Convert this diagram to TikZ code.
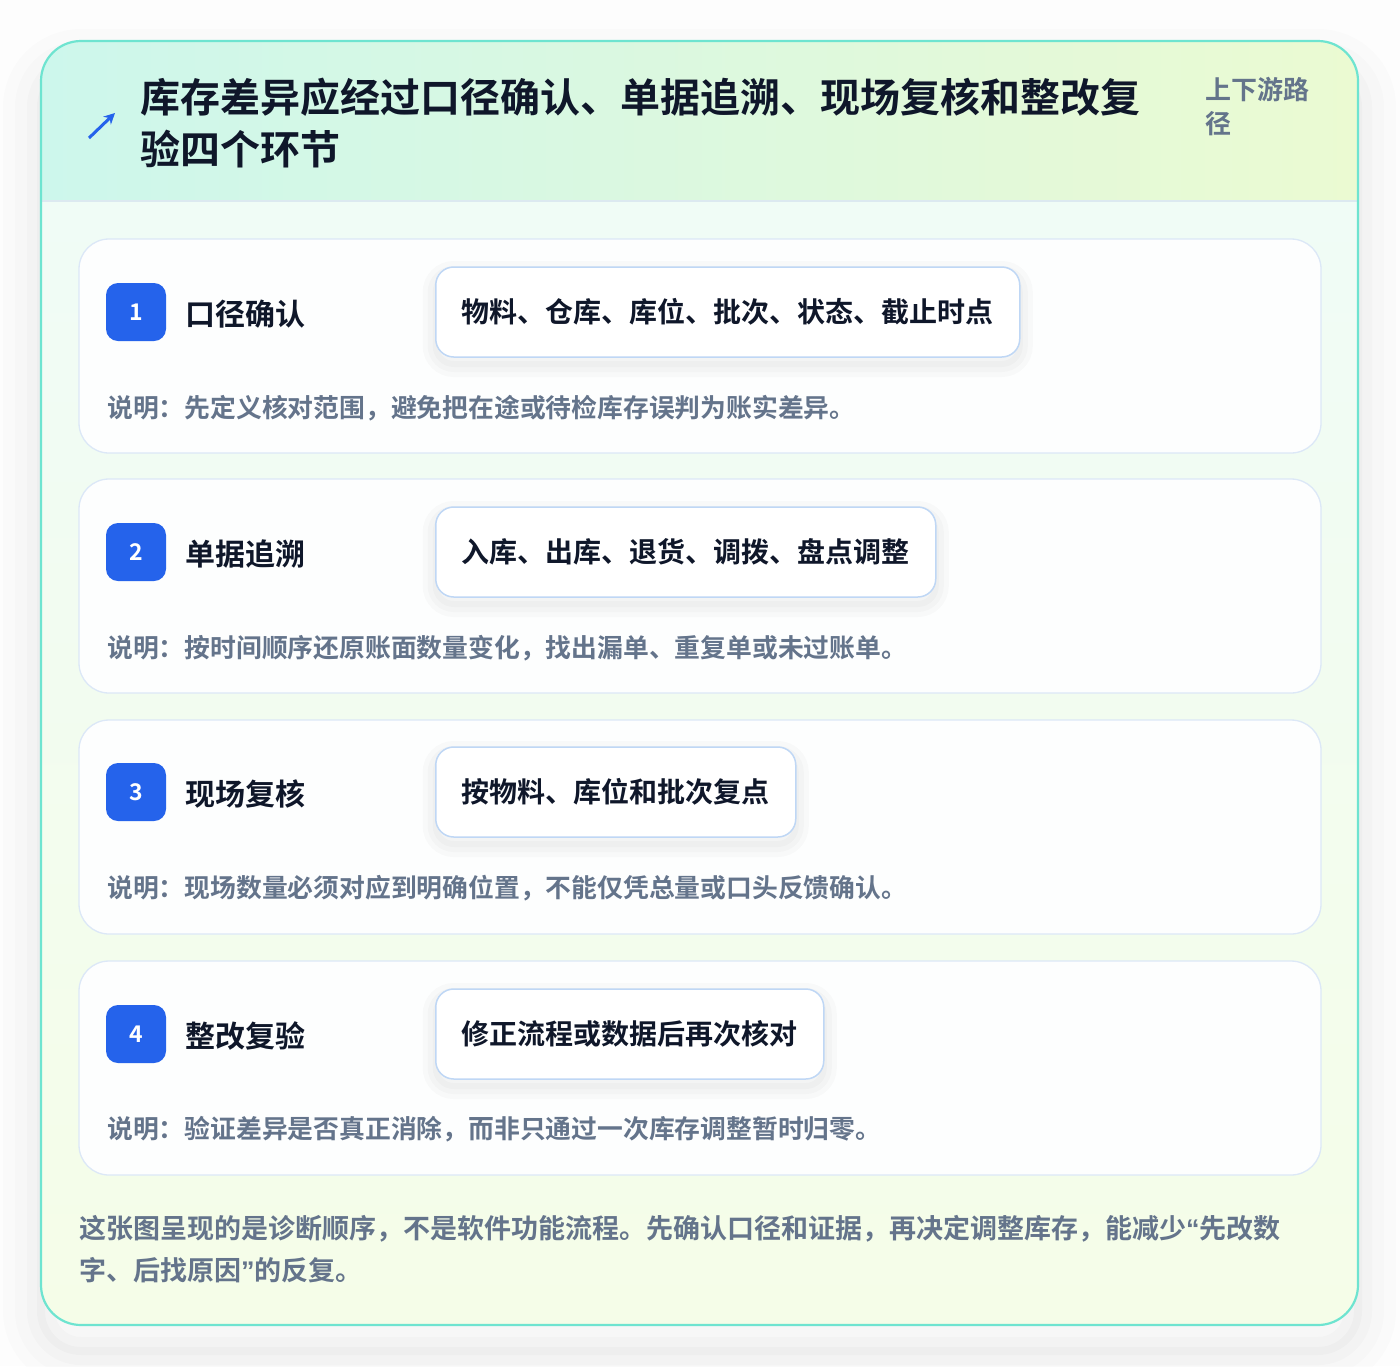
\documentclass[tikz,border=0pt]{standalone}
\usepackage{fontspec}
\setmainfont{Noto Sans CJK SC}[BoldFont={* Bold}]
\newfontfamily\latinq{Liberation Sans}
\usetikzlibrary{arrows.meta}
\definecolor{pagebg}{HTML}{FDFDFD}
\definecolor{rim}{HTML}{6EE4D0}
\definecolor{hdrL}{HTML}{CDF7EC}
\definecolor{hdrR}{HTML}{EBFAD2}
\definecolor{bodyT}{HTML}{F0FCF6}
\definecolor{bodyB}{HTML}{F5FDE8}
\definecolor{sepln}{HTML}{DCE9F0}
\definecolor{cardln}{HTML}{DCE8F7}
\definecolor{cardbg}{HTML}{FDFEFE}
\definecolor{pillln}{HTML}{BFD7F5}
\definecolor{badgebl}{HTML}{2563EB}
\definecolor{ink}{HTML}{0F172A}
\definecolor{slate}{HTML}{64748B}

\begin{document}
\begin{tikzpicture}[x=1pt,y=-1pt,
  softshade/.style={preaction={draw=black,line width=#1,opacity=0.02,transform canvas={yshift=-7pt}}},
  card/.style={draw=cardln,line width=1.3pt,fill=cardbg,rounded corners=30pt,minimum width=1242pt,minimum height=214pt},
  badge/.style={fill=badgebl,rounded corners=12pt,minimum width=60pt,minimum height=58pt,text=white,font=\fontsize{23}{23}\selectfont\bfseries},
  steplbl/.style={anchor=west,inner sep=0pt,text=ink,font=\fontsize{30}{30}\selectfont\bfseries},
  pill/.style={anchor=west,draw=pillln,line width=1.5pt,fill=white,rounded corners=18pt,minimum height=90pt,inner xsep=26pt,text=ink,font=\fontsize{28}{28}\selectfont\bfseries,
    softshade=26pt,softshade=16pt,softshade=6pt},
  stepnote/.style={anchor=west,inner sep=0pt,text=slate,font=\fontsize{25.8}{25.8}\selectfont\bfseries}]
\useasboundingbox (0,0) rectangle (1400,1366);
\fill[pagebg] (0,0) rectangle (1400,1366);
% panel with shadow
\path[fill=white,rounded corners=40pt,
  preaction={draw=black,line width=76pt,opacity=0.011,transform canvas={yshift=-26pt}},
  preaction={draw=black,line width=52pt,opacity=0.013,transform canvas={yshift=-26pt}},
  preaction={draw=black,line width=28pt,opacity=0.016,transform canvas={yshift=-26pt}},
  preaction={draw=black,line width=8pt,opacity=0.02,transform canvas={yshift=-26pt}}]
  (41,41) rectangle (1358,1325);
\begin{scope}
\clip[rounded corners=40pt] (41,41) rectangle (1358,1325);
\shade[left color=hdrL,right color=hdrR] (41,41) rectangle (1358,201);
\shade[top color=bodyT,bottom color=bodyB] (41,201) rectangle (1358,1325);
\draw[sepln,line width=1.5pt] (41,201) -- (1358,201);
\end{scope}
\draw[rim,line width=2.2pt,rounded corners=40pt] (41,41) rectangle (1358,1325);

% header
\coordinate (ic0) at (89,138);
\coordinate (ic1) at (115,113);
\draw[badgebl,line width=3pt,-{Stealth[length=11pt,width=11pt]}] (ic0) -- (ic1);
\node[anchor=north west,inner sep=0pt,align=left,text=ink,font=\fontsize{40}{52}\selectfont\bfseries] (title) at (140,78)
  {库存差异应经过口径确认、单据追溯、现场复核和整改复\\验四个环节};
\node[anchor=north west,inner sep=0pt,align=left,text=slate,font=\fontsize{26}{34}\selectfont\bfseries] (tag) at (1205,77)
  {上下游路\\径};

% step 1
\node[card] (c1) at (700,346) {};
\node[badge] (b1) at (136,312) {1};
\node[steplbl] (l1) at (185,314) {口径确认};
\node[pill] (p1) at (435,312) {物料、仓库、库位、批次、状态、截止时点};
\node[stepnote] (n1) at (107,408) {说明：先定义核对范围，避免把在途或待检库存误判为账实差异。};

% step 2
\node[card] (c2) at (700,586) {};
\node[badge] (b2) at (136,552) {2};
\node[steplbl] (l2) at (185,554) {单据追溯};
\node[pill] (p2) at (435,552) {入库、出库、退货、调拨、盘点调整};
\node[stepnote] (n2) at (107,648) {说明：按时间顺序还原账面数量变化，找出漏单、重复单或未过账单。};

% step 3
\node[card] (c3) at (700,827) {};
\node[badge] (b3) at (136,792) {3};
\node[steplbl] (l3) at (185,794) {现场复核};
\node[pill] (p3) at (435,792) {按物料、库位和批次复点};
\node[stepnote] (n3) at (107,888) {说明：现场数量必须对应到明确位置，不能仅凭总量或口头反馈确认。};

% step 4
\node[card] (c4) at (700,1068) {};
\node[badge] (b4) at (136,1034) {4};
\node[steplbl] (l4) at (185,1036) {整改复验};
\node[pill] (p4) at (435,1034) {修正流程或数据后再次核对};
\node[stepnote] (n4) at (107,1129) {说明：验证差异是否真正消除，而非只通过一次库存调整暂时归零。};

% footer
\node[anchor=north west,inner sep=0pt,align=left,text=slate,font=\fontsize{27}{42}\selectfont\bfseries] (foot) at (79,1215)
  {这张图呈现的是诊断顺序，不是软件功能流程。先确认口径和证据，再决定调整库存，能减少{\latinq “}先改数\\字、后找原因{\latinq ”}的反复。};
\end{tikzpicture}
\end{document}
